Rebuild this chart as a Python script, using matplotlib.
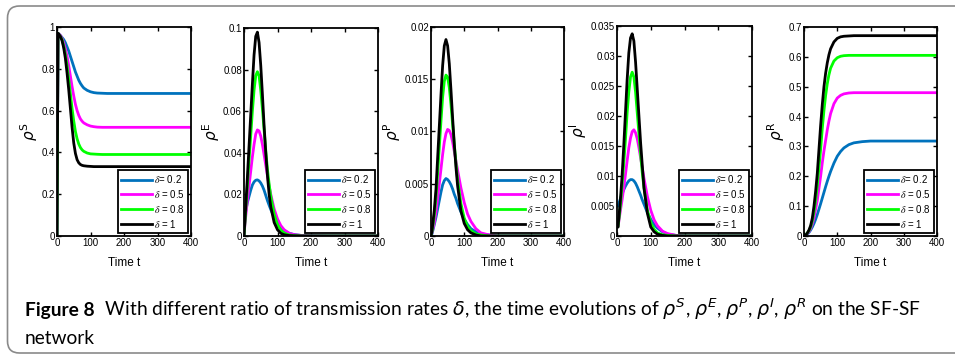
import numpy as np
import matplotlib.pyplot as plt
from matplotlib.patches import FancyBboxPatch
from matplotlib.ticker import FormatStrFormatter

# time points
t = [0, 3, 10, 15, 20, 25, 30, 35, 40, 45, 50, 55, 60, 65, 70, 75, 80, 90, 100,
     110, 120, 135, 150, 175, 200, 250, 300, 400]

deltas = ['0.2', '0.5', '0.8', '1']
legend_labels = [r'$\delta$= 0.2', r'$\delta$ = 0.5', r'$\delta$ = 0.8', r'$\delta$ = 1']
colors = ['#0072BD', '#FF00FF', '#00FF00', '#000000']

S_02 = [0, 0.97, 0.96, 0.95, 0.94, 0.925, 0.905, 0.885, 0.86, 0.835, 0.81, 0.785, 0.765, 0.745,
        0.73, 0.718, 0.708, 0.697, 0.69, 0.686, 0.684, 0.683, 0.682, 0.682, 0.682, 0.682, 0.682, 0.682]
S_05 = [0, 0.97, 0.96, 0.945, 0.925, 0.895, 0.86, 0.815, 0.765, 0.715, 0.67, 0.63, 0.6, 0.577,
        0.56, 0.549, 0.541, 0.532, 0.526, 0.523, 0.521, 0.52, 0.52, 0.52, 0.52, 0.52, 0.52, 0.52]
S_08 = [0, 0.97, 0.955, 0.94, 0.91, 0.87, 0.815, 0.75, 0.68, 0.61, 0.55, 0.5, 0.465, 0.44,
        0.423, 0.412, 0.405, 0.397, 0.393, 0.392, 0.391, 0.39, 0.39, 0.39, 0.39, 0.39, 0.39, 0.39]
S_1 = [0, 0.97, 0.955, 0.935, 0.9, 0.85, 0.78, 0.7, 0.61, 0.52, 0.445, 0.395, 0.365, 0.35,
       0.342, 0.338, 0.336, 0.334, 0.333, 0.332, 0.332, 0.332, 0.332, 0.332, 0.332, 0.332, 0.332, 0.332]

E_02 = [0, 0.01, 0.016, 0.019, 0.022, 0.0245, 0.026, 0.0268, 0.027, 0.0265, 0.0255, 0.024, 0.022, 0.0195,
        0.017, 0.0148, 0.0127, 0.009, 0.006, 0.004, 0.0026, 0.0013, 0.0007, 0.0002, 0.0001, 0, 0, 0]
E_05 = [0, 0.006, 0.017, 0.024, 0.031, 0.038, 0.044, 0.049, 0.051, 0.0505, 0.048, 0.044, 0.039, 0.034,
        0.029, 0.024, 0.02, 0.013, 0.0082, 0.005, 0.003, 0.0013, 0.0006, 0.0002, 0.0001, 0, 0, 0]
E_08 = [0, 0.007, 0.024, 0.036, 0.048, 0.06, 0.07, 0.077, 0.079, 0.077, 0.07, 0.061, 0.051, 0.041,
        0.032, 0.025, 0.019, 0.0105, 0.0055, 0.0028, 0.0014, 0.0005, 0.0002, 0, 0, 0, 0, 0]
E_1 = [0, 0.008, 0.028, 0.043, 0.058, 0.073, 0.087, 0.096, 0.098, 0.093, 0.082, 0.068, 0.053, 0.04,
       0.029, 0.02, 0.014, 0.0065, 0.003, 0.0013, 0.0006, 0.0002, 0.0001, 0, 0, 0, 0, 0]

P_02 = [0, 0.0002, 0.0011, 0.0018, 0.0026, 0.0034, 0.0042, 0.0049, 0.0053, 0.0055, 0.0054, 0.0052, 0.0049, 0.0045,
        0.004, 0.0036, 0.0031, 0.0023, 0.0016, 0.0011, 0.0007, 0.0004, 0.0002, 0.0001, 0, 0, 0, 0]
P_05 = [0, 0.0003, 0.0013, 0.0023, 0.0036, 0.005, 0.0064, 0.0078, 0.009, 0.0098, 0.0102, 0.0101, 0.0097, 0.009,
        0.0081, 0.0072, 0.0063, 0.0046, 0.0032, 0.0021, 0.0014, 0.0007, 0.0003, 0.0001, 0, 0, 0, 0]
P_08 = [0, 0.0004, 0.002, 0.0037, 0.006, 0.0085, 0.011, 0.0133, 0.0148, 0.0154, 0.0152, 0.0142, 0.0126, 0.0107,
        0.0088, 0.007, 0.0054, 0.0031, 0.0017, 0.0009, 0.0005, 0.0002, 0.0001, 0, 0, 0, 0, 0]
P_1 = [0, 0.0005, 0.0025, 0.0045, 0.0075, 0.0105, 0.0135, 0.0163, 0.0182, 0.0188, 0.0182, 0.0165, 0.014, 0.0113,
       0.0088, 0.0066, 0.0048, 0.0024, 0.0012, 0.0006, 0.0003, 0.0001, 0, 0, 0, 0, 0, 0]

I_02 = [0.005, 0.005, 0.0062, 0.007, 0.0077, 0.0083, 0.0088, 0.0092, 0.0094, 0.0094, 0.0092, 0.0088, 0.0082, 0.0075,
        0.0068, 0.006, 0.0053, 0.0039, 0.0028, 0.0019, 0.0013, 0.0007, 0.0003, 0.0001, 0, 0, 0, 0]
I_05 = [0.0015, 0.0015, 0.0042, 0.006, 0.008, 0.0102, 0.0125, 0.0147, 0.0163, 0.0174, 0.0177, 0.0172, 0.0162, 0.0147,
        0.013, 0.0113, 0.0096, 0.0066, 0.0043, 0.0027, 0.0017, 0.0008, 0.0004, 0.0001, 0, 0, 0, 0]
I_08 = [0.0015, 0.0015, 0.005, 0.0085, 0.012, 0.016, 0.0205, 0.024, 0.0265, 0.0273, 0.0265, 0.024, 0.0205, 0.017,
        0.0135, 0.0105, 0.008, 0.0043, 0.0022, 0.0011, 0.0005, 0.0002, 0.0001, 0, 0, 0, 0, 0]
I_1 = [0.0015, 0.0015, 0.006, 0.01, 0.015, 0.0205, 0.026, 0.0305, 0.033, 0.0337, 0.0325, 0.029, 0.0245, 0.02,
       0.0155, 0.0117, 0.008, 0.0038, 0.0015, 0.0007, 0.0003, 0.0001, 0, 0, 0, 0, 0, 0]

R_02 = [0, 0, 0.006, 0.012, 0.02, 0.03, 0.042, 0.056, 0.072, 0.09, 0.108, 0.127, 0.146, 0.165,
        0.183, 0.2, 0.216, 0.244, 0.267, 0.283, 0.295, 0.306, 0.312, 0.316, 0.318, 0.318, 0.318, 0.318]
R_05 = [0, 0, 0.008, 0.015, 0.025, 0.04, 0.06, 0.09, 0.12, 0.16, 0.2, 0.245, 0.285, 0.32,
        0.355, 0.385, 0.41, 0.443, 0.462, 0.471, 0.476, 0.479, 0.48, 0.48, 0.48, 0.48, 0.48, 0.48]
R_08 = [0, 0, 0.01, 0.018, 0.03, 0.05, 0.08, 0.12, 0.17, 0.23, 0.29, 0.36, 0.42, 0.47,
        0.51, 0.54, 0.562, 0.586, 0.597, 0.602, 0.604, 0.605, 0.605, 0.605, 0.605, 0.605, 0.605, 0.605]
R_1 = [0, 0, 0.01, 0.02, 0.035, 0.06, 0.1, 0.15, 0.21, 0.29, 0.37, 0.44, 0.5, 0.545,
       0.58, 0.607, 0.627, 0.65, 0.662, 0.667, 0.669, 0.67, 0.671, 0.671, 0.671, 0.671, 0.671, 0.671]

panels = [
    ('S', [S_02, S_05, S_08, S_1], 1.0, 0.2),
    ('E', [E_02, E_05, E_08, E_1], 0.1, 0.02),
    ('P', [P_02, P_05, P_08, P_1], 0.02, 0.005),
    ('I', [I_02, I_05, I_08, I_1], 0.035, 0.005),
    ('R', [R_02, R_05, R_08, R_1], 0.7, 0.1),
]

W, H = 955, 356
fig = plt.figure(figsize=(W / 100, H / 100), dpi=100)

# rounded frame around the whole figure panel
bg = fig.add_axes([0, 0, 1, 1])
bg.set_xlim(0, W)
bg.set_ylim(H, 0)
bg.axis('off')
bg.add_patch(FancyBboxPatch((7.5, 6), 980, 347, boxstyle='round,pad=0,rounding_size=12',
                            fc='none', ec='#8a8a8a', lw=1.2, clip_on=False))

# pixel boxes: left, top, width, bottom
boxes = [(57, 27, 134, 236), (244, 28, 134, 236), (431, 27, 133, 236),
         (617, 26, 135, 236), (804, 27, 133, 236)]

for (name, series, ymax, ystep), (l, top, w, b) in zip(panels, boxes):
    ax = fig.add_axes([l / W, 1 - b / H, w / W, (b - top) / H])
    for y, c, lab in zip(series, colors, legend_labels):
        ax.plot(t, y, color=c, lw=2, label=lab)
    ax.set_xlim(3 if name == 'I' else 0, 400)
    ax.set_ylim(0, ymax)
    ax.set_xticks([0, 100, 200, 300, 400])
    ax.set_yticks(np.arange(0, ymax + ystep / 2, ystep))
    ax.yaxis.set_major_formatter(FormatStrFormatter('%g'))
    ax.tick_params(direction='in', top=True, right=True, length=3, width=1,
                   labelsize=7, pad=1.5)
    for lbl in ax.get_xticklabels() + ax.get_yticklabels():
        lbl.set_family('Liberation Sans')
    for sp in ax.spines.values():
        sp.set_linewidth(1.3)
    ax.set_xlabel('Time t', family='Liberation Sans', fontsize=8.5, labelpad=6.5)
    ax.set_ylabel(r'$\rho^{\mathrm{%s}}$' % name, fontsize=11, labelpad=1, math_fontfamily='dejavusans')
    leg = ax.legend(loc='lower right', handlelength=3.2, handletextpad=0.2,
                    borderpad=0.3, labelspacing=0.3, fancybox=False, framealpha=1,
                    borderaxespad=0.35, prop={'family': 'Liberation Sans', 'size': 7,
                                              'math_fontfamily': 'stix'})
    leg.get_frame().set_edgecolor('black')
    leg.get_frame().set_linewidth(1.3)

# caption
cap_font = 'Lato'
fs = 13.75
renderer = fig.canvas.get_renderer()
x0, y1 = 25 / W, 1 - 316 / H
t1 = fig.text(x0, y1, 'Figure 8', fontsize=fs, family=cap_font, weight='bold', va='baseline')
bb = t1.get_window_extent(renderer)
cap = (r'  With different ratio of transmission rates $\delta$, the time evolutions of '
       r'$\rho^S$, $\rho^E$, $\rho^P$, $\rho^I$, $\rho^R$ on the SF-SF')
fig.text(bb.x1 / W, y1, cap, fontsize=fs, family=cap_font, va='baseline',
         math_fontfamily='dejavusans')
fig.text(x0, 1 - 344 / H, 'network', fontsize=fs, family=cap_font, va='baseline')

fig.savefig('out.png', dpi=100)
